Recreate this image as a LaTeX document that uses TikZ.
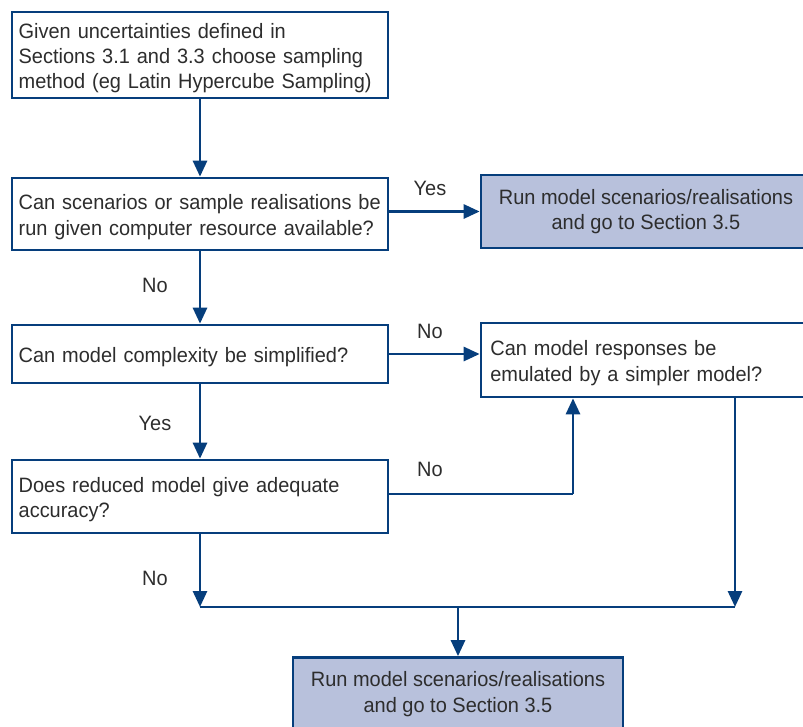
\documentclass[tikz,border=0pt]{standalone}
\usepackage{fontspec}
\setmainfont{Liberation Sans}[FakeStretch=0.96]
\usetikzlibrary{arrows.meta}
\definecolor{flowblue}{RGB}{6,62,124}
\definecolor{boxfill}{RGB}{184,193,220}
\definecolor{txtgray}{RGB}{45,45,45}
% one unbreakable line of box text
\newcommand{\boxline}[1]{\mbox{#1}}
\begin{document}
\begin{tikzpicture}[x=0.75pt,y=-0.75pt,
  every node/.style={text=txtgray,font=\fontsize{15.6}{19}\selectfont},
  topstrut/.style={execute at begin node={\rule{0pt}{16pt}}},
  box/.style={draw=flowblue,line width=2pt,fill=white,rectangle,inner xsep=5pt,inner ysep=0pt,
              minimum width=282pt,text width=272pt,align=left,topstrut},
  runbox/.style={draw=flowblue,line width=2pt,fill=boxfill,rectangle,inner sep=0pt,
              minimum width=247.5pt,minimum height=54.75pt,align=center,topstrut},
  emubox/.style={draw=flowblue,line width=2pt,fill=white,rectangle,inner xsep=7pt,inner ysep=0pt,
              minimum width=250.5pt,minimum height=55.5pt,text width=236.5pt,align=left,topstrut},
  flow/.style={draw=flowblue,line width=2.1pt,-{Triangle[length=12pt,width=10.5pt]}},
  plain/.style={draw=flowblue,line width=2.1pt},
  lbl/.style={inner sep=0pt}]
\useasboundingbox (0,0) rectangle (803,726);
\begin{scope}
\clip (0,0) rectangle (803,726);

% decision and process boxes
\node[box,minimum height=64.5pt] (start) at (200,55)
  {\boxline{Given uncertainties defined in}\\\boxline{Sections 3.1 and 3.3 choose sampling}\\\boxline{method (eg Latin Hypercube Sampling)}};
\node[box,minimum height=54pt] (canrun) at (200,214)
  {\boxline{Can scenarios or sample realisations be}\\\boxline{run given computer resource available?}};
\node[runbox] (runA) at (646,211.5)
  {Run model scenarios/realisations\\and go to Section 3.5};
\node[box,minimum height=43.5pt] (simplify) at (200,354)
  {\boxline{Can model complexity be simplified?}};
\node[emubox] (emulate) at (648,360)
  {\boxline{Can model responses be}\\\boxline{emulated by a simpler model?}};
\node[box,minimum height=54.75pt] (reduced) at (200,496.5)
  {\boxline{Does reduced model give adequate}\\\boxline{accuracy?}};
\node[runbox] (runB) at (458,694)
  {Run model scenarios/realisations\\and go to Section 3.5};

% junction points on the merge line
\coordinate (jleft) at (200,607);
\coordinate (jmid) at (458,607);
\coordinate (jright) at (735,607);
\coordinate (bend) at (573,494);

% connectors
\draw[flow] (start.south) -- (canrun.north);
\draw[flow] (canrun.east |- runA.west) -- (runA.west);
\draw[flow] (canrun.south) -- (simplify.north);
\draw[flow] (simplify.east) -- (simplify.east -| emulate.west);
\draw[flow] (simplify.south) -- (reduced.north);
\draw[plain] (reduced.east |- bend) -- (bend);
\draw[flow] (bend) -- (bend |- emulate.south);
\draw[flow] (reduced.south) -- (jleft);
\draw[plain] (jleft) -- (jright);
\draw[flow] (jright |- emulate.south) -- (jright);
\draw[flow] (jmid) -- (runB.north);

% branch labels
\node[lbl] (yes1) at (430,188) {Yes};
\node[lbl] (no1) at (155,285) {No};
\node[lbl] (no2) at (430,331) {No};
\node[lbl] (yes2) at (155,423) {Yes};
\node[lbl] (no3) at (430,469) {No};
\node[lbl] (no4) at (155,578) {No};
\end{scope}
\end{tikzpicture}
\end{document}
